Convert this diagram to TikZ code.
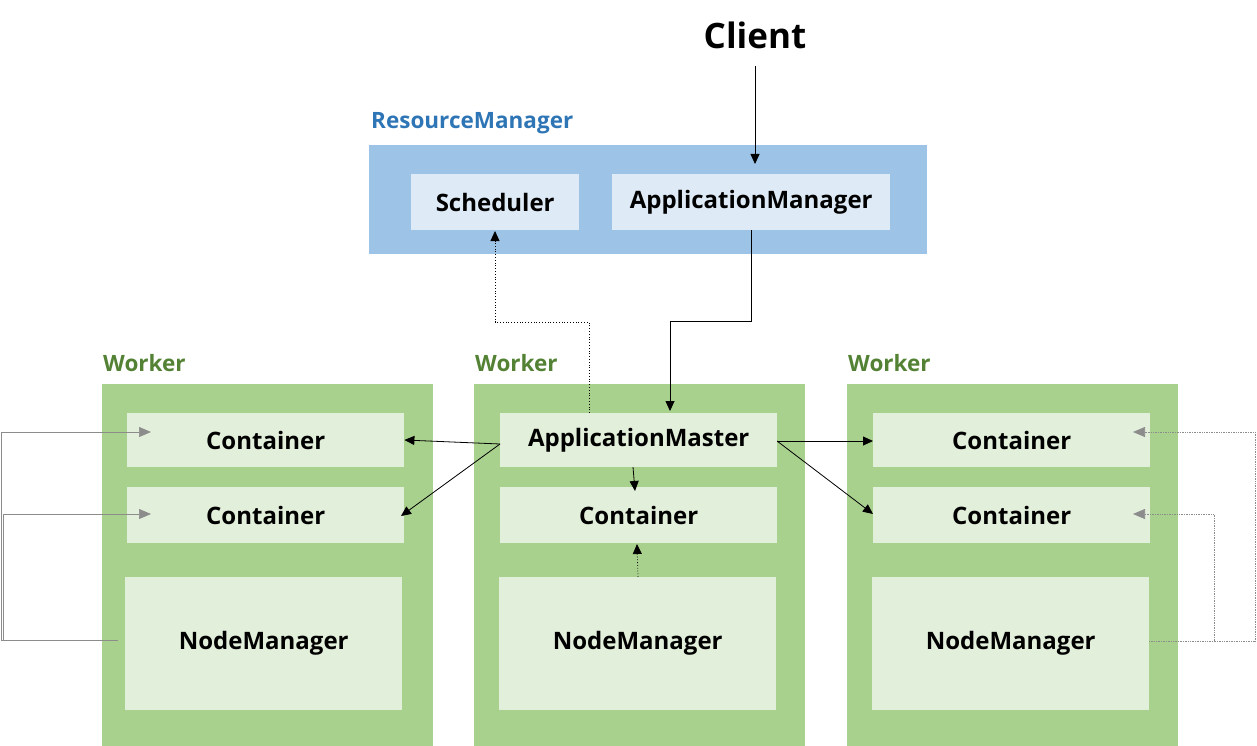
\documentclass[tikz,border=0pt]{standalone}
\usepackage{fontspec}
\setmainfont{Open Sans}
\usetikzlibrary{arrows.meta}
\definecolor{rmblue}{HTML}{9DC3E6}
\definecolor{rmlight}{HTML}{DEEBF7}
\definecolor{rmtext}{HTML}{2E75B6}
\definecolor{wkgreen}{HTML}{A9D18E}
\definecolor{wklight}{HTML}{E2EFDA}
\definecolor{wktext}{HTML}{548235}
\definecolor{loopgray}{HTML}{8C8C8C}
\tikzset{
  outerrm/.style={fill=rmblue, draw=none},
  innerrm/.style={fill=rmlight, draw=none, font=\bfseries\fontsize{24}{28}\selectfont},
  worker/.style={fill=wkgreen, draw=none},
  inner/.style={fill=wklight, draw=none, font=\bfseries\fontsize{24}{28}\selectfont},
  grplabel/.style={anchor=west, inner sep=0pt, font=\bfseries\fontsize{22.5}{26}\selectfont},
  arr/.style={-{Triangle[length=10pt,width=9pt]}, line width=0.8pt, black},
  darr/.style={-{Triangle[length=10pt,width=9pt]}, line width=0.8pt, black, dotted},
  garr/.style={-{Triangle[length=12pt,width=10pt]}, line width=0.7pt, loopgray},
  gdarr/.style={-{Triangle[length=12pt,width=10pt]}, line width=0.7pt, loopgray, densely dotted},
}
\begin{document}
\begin{tikzpicture}[x=1pt,y=-1pt]
\useasboundingbox (0,0) rectangle (1257,746);
% Client
\node[font=\bfseries\fontsize{35}{40}\selectfont, inner sep=0pt] (client) at (755,35) {Client};
\coordinate (c0) at (755,66);
% ResourceManager
\node[outerrm, minimum width=558pt, minimum height=109pt, anchor=north west, inner sep=0pt] (rm) at (369,145) {};
\node[grplabel, text=rmtext] (rmlabel) at (371,123) {ResourceManager};
\node[innerrm, minimum width=168pt, minimum height=56pt, anchor=north west, inner sep=0pt] (sched) at (411,174) {Scheduler};
\node[innerrm, minimum width=278pt, minimum height=56pt, anchor=north west, inner sep=0pt] (appmgr) at (612,174) {ApplicationManager};
% Workers
\foreach \n/\x in {wl/102, wm/474, wr/847} {
  \node[worker, minimum width=331pt, minimum height=362pt, anchor=north west, inner sep=0pt] (\n) at (\x,384) {};
  \node[grplabel, text=wktext] (\n label) at (\x+1,363) {Worker};
}
% Left worker
\node[inner, minimum width=277pt, minimum height=54pt, anchor=north west, inner sep=0pt] (lc1) at (127,413) {Container};
\node[inner, minimum width=277pt, minimum height=56pt, anchor=north west, inner sep=0pt] (lc2) at (127,487) {Container};
\node[inner, minimum width=277pt, minimum height=133pt, anchor=north west, inner sep=0pt] (lnm) at (125,577) {NodeManager};
% Middle worker
\node[inner, minimum width=277pt, minimum height=54pt, anchor=north west, inner sep=0pt] (am) at (500,413) {ApplicationMaster};
\node[inner, minimum width=277pt, minimum height=56pt, anchor=north west, inner sep=0pt] (mc) at (500,487) {Container};
\node[inner, minimum width=277pt, minimum height=133pt, anchor=north west, inner sep=0pt] (mnm) at (499,577) {NodeManager};
% Right worker
\node[inner, minimum width=277pt, minimum height=54pt, anchor=north west, inner sep=0pt] (rc1) at (873,413) {Container};
\node[inner, minimum width=277pt, minimum height=56pt, anchor=north west, inner sep=0pt] (rc2) at (873,487) {Container};
\node[inner, minimum width=277pt, minimum height=133pt, anchor=north west, inner sep=0pt] (rnm) at (872,577) {NodeManager};

% Client -> ApplicationManager
\draw[arr] (c0) -- (c0 |- 0,164);
% ApplicationManager -> ApplicationMaster
\coordinate (amgrb) at (751,230);
\draw[arr] (amgrb) -- (751,321) -- (670,321) -- (670,411);
% ApplicationMaster -> Scheduler (dotted)
\draw[darr] (589,413) -- (589,322) -- (495,322) -- (495,231);
% ApplicationMaster -> containers
\draw[arr] (500,444) -- (lc1.east |- 0,440);
\draw[arr] (500,444) -- (401,516);
\draw[arr] (777,441) -- (rc1.west |- 0,441);
\draw[arr] (777,441) -- (873,514);
\draw[arr] (633,467) -- (635,491);
\draw[darr] (638,577) -- (637,544);
% Left loops
\draw[garr] (118,640) -- (1,640) -- (1,432) -- (151,432);
\draw[garr] (60,640) -- (3,640) -- (3,514) -- (151,514);
% Right loops
\draw[gdarr] (1149,641) -- (1255,641) -- (1255,432) -- (1133,432);
\draw[gdarr] (1214,641) -- (1214,514) -- (1133,514);
\end{tikzpicture}
\end{document}
